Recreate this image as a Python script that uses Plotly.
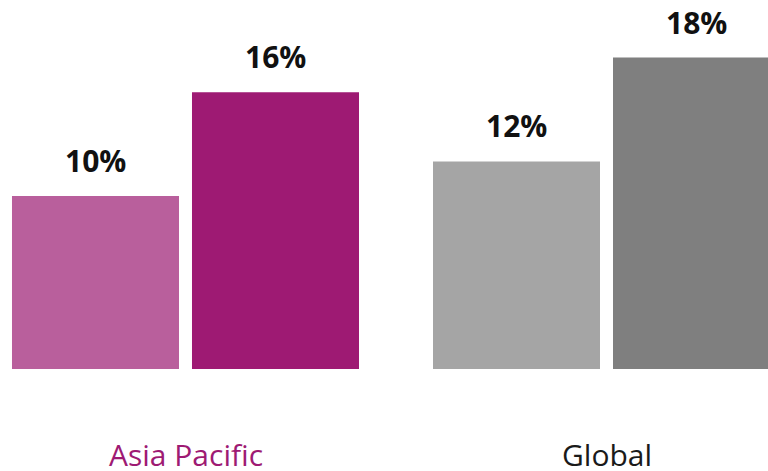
import plotly.graph_objects as go

# Regional comparison, two periods per region
regions = ["Asia Pacific", "Global"]
earlier = [10, 12]
later = [16, 18]

earlier_colors = ["#B95F9C", "#A5A5A5"]
later_colors = ["#9E1A73", "#7F7F7F"]
region_label_colors = ["#9E1A73", "#1A1A1A"]

BARGAP = 0.1449
GROUPGAP = 0.0722
FONT = "Open Sans"

fig = go.Figure()
fig.add_trace(go.Bar(x=regions, y=earlier, marker=dict(color=earlier_colors, line=dict(width=0)),
                     showlegend=False, hoverinfo="skip"))
fig.add_trace(go.Bar(x=regions, y=later, marker=dict(color=later_colors, line=dict(width=0)),
                     showlegend=False, hoverinfo="skip"))

# value labels above each bar
slot = (1 - BARGAP) / 2
for i, region in enumerate(regions):
    for val, off in ((earlier[i], -slot / 2), (later[i], slot / 2)):
        fig.add_annotation(x=i + off, y=val, xref="x", yref="y", text=f"<b>{val}%</b>",
                           showarrow=False, yanchor="bottom", yshift=13,
                           font=dict(family=FONT, size=30, color="#111111"))
    # region name below the group
    fig.add_annotation(x=i, y=-5, xref="x", yref="y", text=region, showarrow=False,
                       yanchor="middle", yshift=1,
                       font=dict(family=FONT, size=30, color=region_label_colors[i]))

fig.update_layout(
    width=768, height=471,
    margin=dict(l=0, r=0, t=0, b=0),
    paper_bgcolor="white", plot_bgcolor="white",
    barmode="group", bargap=BARGAP, bargroupgap=GROUPGAP,
    xaxis=dict(type="category", range=[-0.4406, 1.3836], showticklabels=False,
               showgrid=False, zeroline=False, showline=False, fixedrange=True),
    yaxis=dict(range=[-5.896, 21.33], showticklabels=False, showgrid=False,
               zeroline=False, showline=False, fixedrange=True),
)

fig.write_html("out.html")
